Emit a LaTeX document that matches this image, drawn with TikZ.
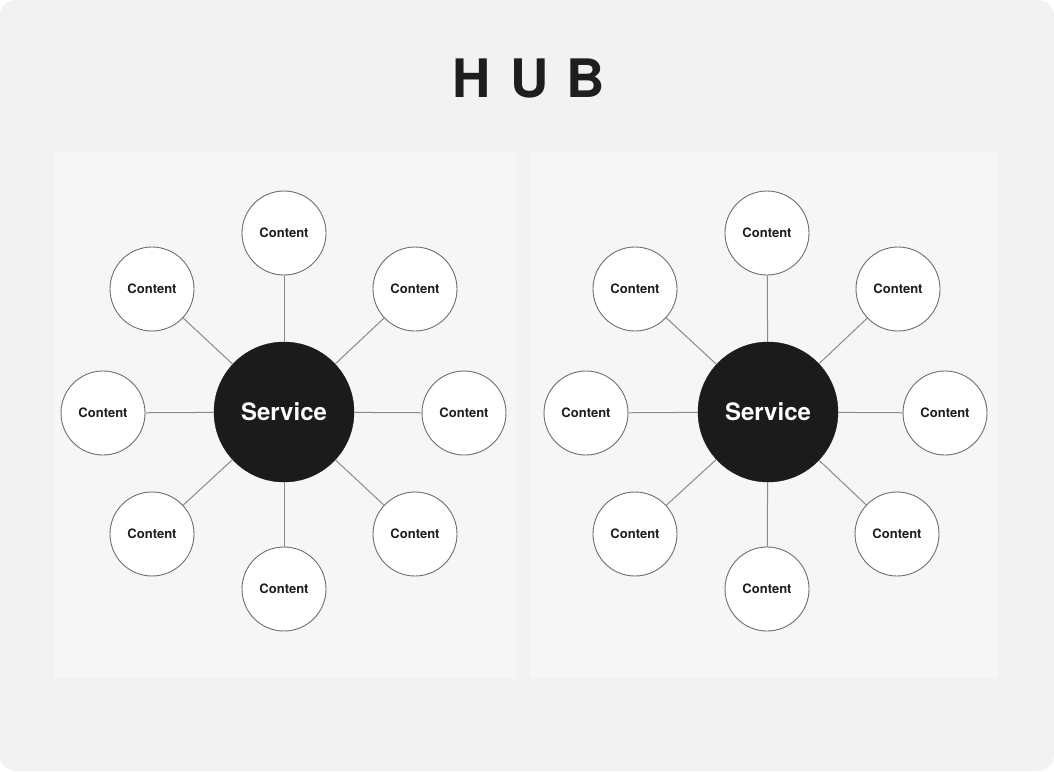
\documentclass[tikz,border=0pt]{standalone}
\usepackage{fontspec}
\setmainfont{TeX Gyre Heros}
\definecolor{bgc}{HTML}{F2F2F2}
\definecolor{panelc}{HTML}{F6F6F6}
\definecolor{hubc}{HTML}{1B1B1B}
\definecolor{linec}{HTML}{8A8A8A}
\definecolor{ringc}{HTML}{6E6E6E}
\definecolor{txtc}{HTML}{1E1E1E}
\tikzset{
  hub/.style={circle, fill=hubc, draw=hubc, minimum size=140pt, inner sep=0pt, text=white, font=\fontsize{24}{28}\selectfont\bfseries},
  leaf/.style={circle, fill=white, draw=ringc, line width=0.9pt, minimum size=84pt, inner sep=0pt, text=txtc, font=\fontsize{13}{15}\selectfont\bfseries},
  spoke/.style={draw=linec, line width=1pt},
  panel/.style={fill=panelc, draw=none},
  title/.style={text=txtc, font=\fontsize{53}{60}\selectfont\bfseries, inner sep=0pt}
}
\begin{document}
\begin{tikzpicture}[x=1pt,y=-1pt]
\useasboundingbox (0,0) rectangle (1054,771);
\fill[white] (0,0) rectangle (1054,771);
\fill[bgc, rounded corners=16pt] (0,0) rectangle (1054,771);
\fill[panel] (54,151) rectangle (516,678);
\fill[panel] (530,151) rectangle (998,678);
\node[title] (tH) at (472,78) {H};
\node[title] (tU) at (530,78) {U};
\node[title] (tB) at (586,78) {B};
% left hub
\begin{scope}
\node[leaf] (la) at (284,233) {Content};
\node[leaf] (lb) at (152,289) {Content};
\node[leaf] (lc) at (415,289) {Content};
\node[leaf] (ld) at (103,413) {Content};
\node[leaf] (le) at (464,413) {Content};
\node[leaf] (lf) at (152,534) {Content};
\node[leaf] (lg) at (415,534) {Content};
\node[leaf] (lh) at (284,589) {Content};
\node[hub] (lhub) at (284,412) {Service};
\foreach \n in {la,lb,lc,ld,le,lf,lg,lh} \draw[spoke] (lhub) -- (\n);
\end{scope}
% right hub
\begin{scope}
\node[leaf] (ra) at (767,233) {Content};
\node[leaf] (rb) at (635,289) {Content};
\node[leaf] (rc) at (898,289) {Content};
\node[leaf] (rd) at (586,413) {Content};
\node[leaf] (re) at (945,413) {Content};
\node[leaf] (rf) at (635,534) {Content};
\node[leaf] (rg) at (897,534) {Content};
\node[leaf] (rh) at (767,589) {Content};
\node[hub] (rhub) at (768,412) {Service};
\foreach \n in {ra,rb,rc,rd,re,rf,rg,rh} \draw[spoke] (rhub) -- (\n);
\end{scope}
\end{tikzpicture}
\end{document}
